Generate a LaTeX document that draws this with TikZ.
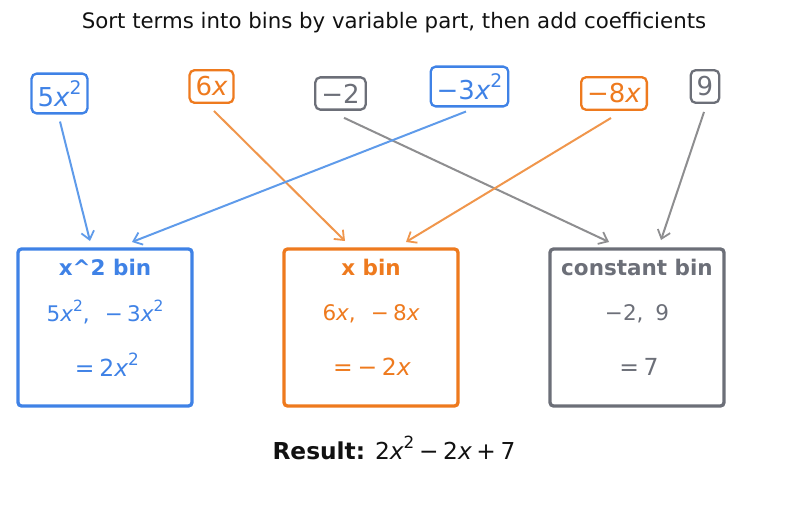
\documentclass[tikz,border=0pt]{standalone}
\usepackage{fontspec}
\setmainfont{DejaVu Sans}
\newfontfamily\obl{DejaVu Sans Oblique}
\usetikzlibrary{arrows.meta,calc}
\newcommand{\vx}{{\obl x}}
\newcommand{\sqp}{\raisebox{0.48em}{\scalebox{0.72}{2}}}
\definecolor{cblue}{HTML}{3F82E6}
\definecolor{ablue}{HTML}{5F9BEA}
\definecolor{corange}{HTML}{EE7A1E}
\definecolor{aorange}{HTML}{F0964C}
\definecolor{cgray}{HTML}{6C6F78}
\definecolor{agray}{HTML}{8E8E90}
\definecolor{ctitle}{HTML}{111111}
\tikzset{
  term/.style={draw=#1, text=#1, line width=2.3pt, rounded corners=5pt, inner xsep=6pt, inner ysep=6.5pt, font=\fontsize{26}{29}\selectfont},
  bin/.style={draw=#1, line width=3.3pt, rounded corners=3.5pt, minimum width=174pt, minimum height=157pt},
  bintitle/.style={text=#1, font=\fontsize{21.5}{25}\selectfont\bfseries},
  binline/.style={text=#1, font=\fontsize{21.5}{25}\selectfont},
  binres/.style={text=#1, font=\fontsize{23.5}{27}\selectfont},
  conn/.style={draw=#1, line width=2pt, -{Straight Barb[length=8pt,width=13pt,line width=1.8pt]}}
}
\begin{document}
\begin{tikzpicture}[x=1pt,y=-1pt]
\useasboundingbox (0,0) rectangle (787,508);
\node[text=ctitle, font=\fontsize{21.3}{25}\selectfont] (title) at (394,23) {Sort terms into bins by variable part, then add coefficients};
% terms
\node[term=cblue] (t1) at (59.5,93.5) {5\vx\sqp};
\node[term=corange] (t2) at (211.5,86.5) {6\vx};
\node[term=cgray] (t3) at (340.5,93.5) {−2};
\node[term=cblue] (t4) at (469.5,86.5) {−3\vx\sqp};
\node[term=corange] (t5) at (614,93.5) {−8\vx};
\node[term=cgray] (t6) at (705,86.5) {9};
% bins
\node[bin=cblue] (b1) at (105,327.5) {};
\node[bin=corange] (b2) at (371,327.5) {};
\node[bin=cgray] (b3) at (637,327.5) {};
\node[bintitle=cblue] (b1t) at (105,267) {x\^{}2 bin};
\node[bintitle=corange] (b2t) at (371,267) {x bin};
\node[bintitle=cgray] (b3t) at (637,267) {constant bin};
\node[binline=cblue] (b1l) at (105,312) {5\vx\sqp,\hspace{0.7em}−\hspace{0.2em}3\vx\sqp};
\node[binline=corange] (b2l) at (371,314) {6\vx,\hspace{0.7em}−\hspace{0.2em}8\vx};
\node[binline=cgray] (b3l) at (637,314) {−2,\hspace{0.55em}9};
\node[binres=cblue] (b1r) at (107,365) {=\hspace{0.2em}2\vx\sqp};
\node[binres=corange] (b2r) at (372,367) {=\hspace{0.2em}−\hspace{0.2em}2\vx};
\node[binres=cgray] (b3r) at (639,367) {=\hspace{0.2em}7};
% result
\node[text=ctitle, font=\fontsize{23.3}{27}\selectfont] (res) at (394,448) {\textbf{Result:} 2\vx\sqp\hspace{0.2em}−\hspace{0.2em}2\vx\hspace{0.2em}+\hspace{0.2em}7};
% arrow end points
\coordinate (e1) at (90,241);
\coordinate (e2) at (345,241);
\coordinate (e3) at (609,242);
\coordinate (e4) at (132,242);
\coordinate (e5) at (406,242);
\coordinate (e6) at (661,240);
\draw[conn=ablue] ($(t1.south)+(0.5,7)$) -- (e1);
\draw[conn=aorange] ($(t2.south)+(2.5,7)$) -- (e2);
\draw[conn=agray] ($(t3.south)+(3.5,7)$) -- (e3);
\draw[conn=ablue] ($(t4.south)+(-3.5,4)$) -- (e4);
\draw[conn=aorange] ($(t5.south)+(-3,7)$) -- (e5);
\draw[conn=agray] ($(t6.south)+(-1,8)$) -- (e6);
\end{tikzpicture}
\end{document}
